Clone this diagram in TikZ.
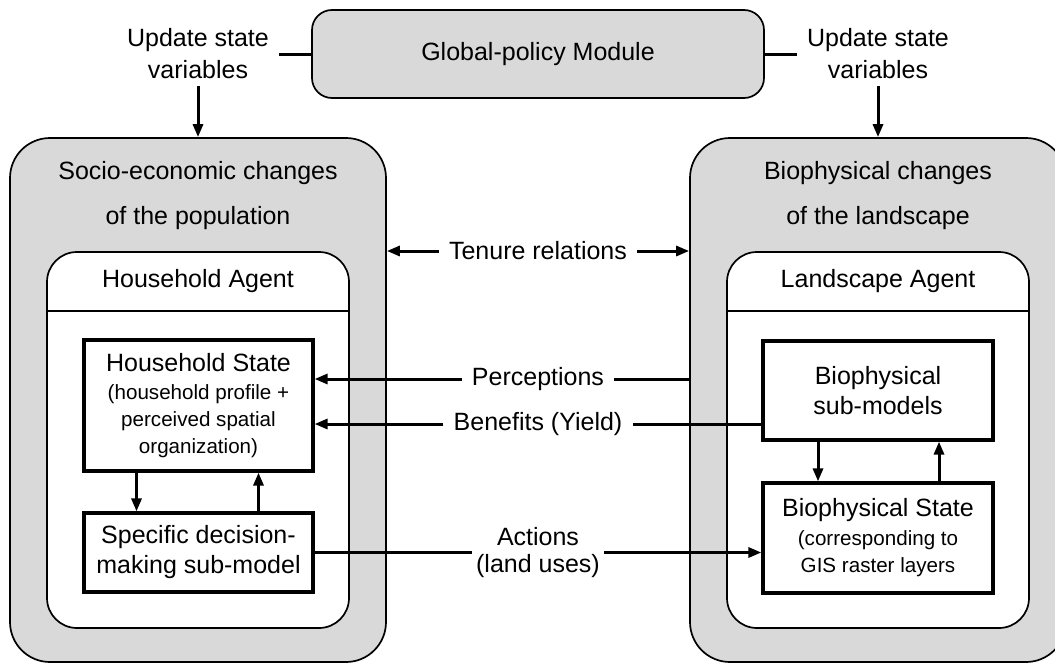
\documentclass[tikz,border=0pt]{standalone}
\usepackage{fontspec}
\setmainfont{Liberation Sans}
\usetikzlibrary{arrows.meta}
\newcommand\subtxt{\fontsize{10.3}{13.5}\selectfont}

\begin{document}
\begin{tikzpicture}[x=0.5pt,y=-0.5pt,
	every node/.style={font=\fontsize{12.5}{15}\selectfont},
	outer/.style={draw, line width=0.85pt, fill=black!15, rounded corners=20pt, minimum width=188pt, minimum height=262pt},
	agent/.style={draw, line width=0.85pt, fill=white, rounded corners=15pt, minimum width=151pt, minimum height=188pt},
	box/.style={draw, line width=1.6pt, fill=white, align=center},
	lbl/.style={align=center, inner xsep=5pt},
	ln/.style={line width=1.5pt},
	arr/.style={line width=1.5pt, -{Triangle[length=6.5pt,width=5pt]}}]
	\useasboundingbox (0,0) rectangle (1055,664);

	\node[draw, line width=0.85pt, fill=black!15, rounded corners=10pt, minimum width=226pt, minimum height=44pt] (policy) at (538,54) {Global-policy Module};
	\node[lbl, font=\fontsize{12.5}{16}\selectfont] (updpop) at (198,54) {Update state\\variables};
	\node[lbl, font=\fontsize{12.5}{16}\selectfont] (updland) at (878,54) {Update state\\variables};

	\node[outer] (popbox) at (198,400) {};
	\node[outer] (landbox) at (878,400) {};
	\node[align=center, font=\fontsize{12.5}{22.5}\selectfont] (poptitle) at (198,196) {Socio-economic changes\\of the population};
	\node[align=center, font=\fontsize{12.5}{22.5}\selectfont] (landtitle) at (878,196) {Biophysical changes\\of the landscape};

	\node[agent] (hhagent) at (198,440) {};
	\node[agent] (lsagent) at (878,440) {};
	\node (hhname) at (198,281) {Household Agent};
	\node (lsname) at (878,281) {Landscape Agent};
	\coordinate (sep) at (0,311);
	\draw[line width=1.3pt] (hhagent.west |- sep) -- (hhagent.east |- sep);
	\draw[line width=1.3pt] (lsagent.west |- sep) -- (lsagent.east |- sep);

	\node[box, minimum width=114.5pt, minimum height=65.5pt] (hhstate) at (198.5,405.5) {Household State\\[-1pt]\subtxt (household profile +\\[-1.5pt]\subtxt perceived spatial\\[-1.5pt]\subtxt organization)};
	\node[box, minimum width=114.5pt, minimum height=39.5pt] (decide) at (198.5,552.5) {Specific decision-\\making sub-model};
	\node[box, minimum width=115pt, minimum height=49.5pt] (biosub) at (878,390.5) {Biophysical\\sub-models};
	\node[box, minimum width=115pt, minimum height=55pt] (biostate) at (878,538) {Biophysical State\\[-0.5pt]\subtxt (corresponding to\\[-1.5pt]\subtxt GIS raster layers};

	\node[lbl] (tenure) at (538,251) {Tenure relations};
	\node[lbl] (percep) at (538,379) {Perceptions};
	\node[lbl] (benefit) at (538,424) {Benefits (Yield)};
	\node[lbl, inner xsep=2pt, font=\fontsize{12.5}{13.5}\selectfont] (actions) at (538,552.5) {Actions\\(land uses)};

	\draw[ln] (policy.west) -- (updpop.east);
	\draw[ln] (policy.east) -- (updland.west);
	\draw[arr] (updpop.south) -- (popbox.north);
	\draw[arr] (updland.south) -- (landbox.north);

	\draw[arr] (tenure.west) -- (tenure.west -| popbox.east);
	\draw[arr] (tenure.east) -- (tenure.east -| landbox.west);
	\draw[ln] (percep.east -| landbox.west) -- (percep.east);
	\draw[arr] (percep.west) -- (percep.west -| hhstate.east);
	\draw[ln] (benefit.east -| biosub.west) -- (benefit.east);
	\draw[arr] (benefit.west) -- (benefit.west -| hhstate.east);
	\draw[ln] (decide.east) -- (actions.west);
	\draw[arr] (actions.east) -- (actions.east -| biostate.west);

	\draw[arr] ([xshift=-31pt]hhstate.south) -- ([xshift=-31pt]decide.north);
	\draw[arr] ([xshift=30pt]decide.north) -- ([xshift=30pt]hhstate.south);
	\draw[arr] ([xshift=-30pt]biosub.south) -- ([xshift=-30pt]biostate.north);
	\draw[arr] ([xshift=30.5pt]biostate.north) -- ([xshift=30.5pt]biosub.south);
\end{tikzpicture}
\end{document}
